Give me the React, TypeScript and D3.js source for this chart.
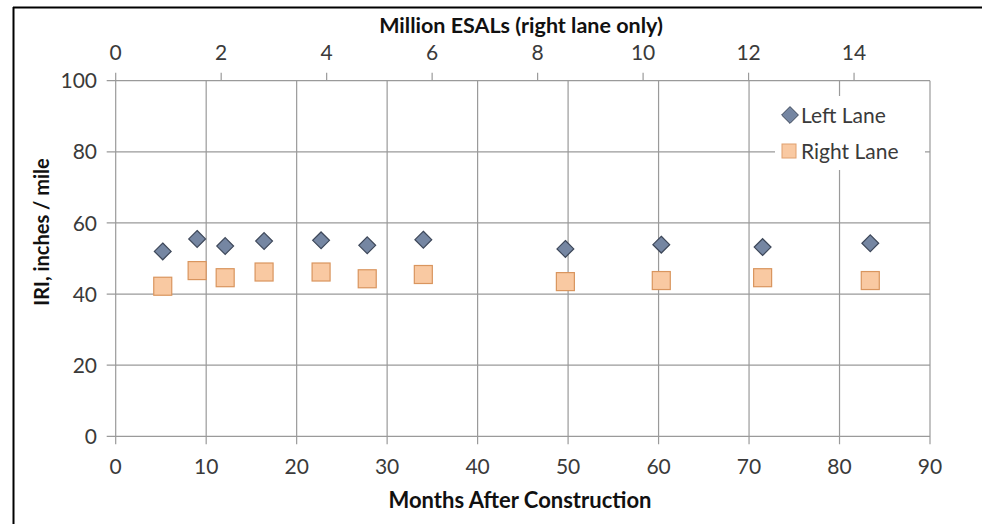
import React from "react";
import * as d3 from "d3";

const months = [5.2, 9.0, 12.1, 16.4, 22.7, 27.8, 34.0, 49.7, 60.3, 71.5, 83.4];
const leftLane = [52.0, 55.5, 53.5, 54.9, 55.1, 53.7, 55.3, 52.7, 53.9, 53.2, 54.3];
const rightLane = [42.2, 46.6, 44.6, 46.2, 46.2, 44.3, 45.5, 43.5, 43.8, 44.6, 43.8];
const monthTicks = [0, 10, 20, 30, 40, 50, 60, 70, 80, 90];
const esalTicks = [0, 2, 4, 6, 8, 10, 12, 14];
const iriTicks = [0, 20, 40, 60, 80, 100];
const esalMax = 15.44;

const W = 982;
const H = 524;
const plot = { left: 115.7, right: 930, top: 80.7, bottom: 436.3 };
const FONT = "Lato, 'Open Sans', sans-serif";
const GRID = "#9a9a9a";
const TXT = "#3a3a3a";

export default function App() {
  const x = d3.scaleLinear().domain([0, 90]).range([plot.left, plot.right]);
  const xTop = d3.scaleLinear().domain([0, esalMax]).range([plot.left, plot.right]);
  const y = d3.scaleLinear().domain([0, 100]).range([plot.bottom, plot.top]);

  const diamond = d3.symbol().type(d3.symbolDiamond2).size(180)();
  const sq = 18;

  return (
    <svg
      width={W}
      height={H}
      style={{ position: "absolute", left: 0, top: 0, background: "#fff" }}
      fontFamily={FONT}
    >
      <rect x={0} y={0} width={W} height={H} fill="#fff" />
      {/* outer frame */}
      <line x1={13} y1={7.5} x2={W} y2={7.5} stroke="#000" strokeWidth={2} />
      <line x1={13.5} y1={7} x2={13.5} y2={H} stroke="#000" strokeWidth={2} />

      {/* horizontal grid */}
      {iriTicks.map((t) => (
        <line key={"hg" + t} x1={plot.left - 9} x2={plot.right} y1={y(t)} y2={y(t)} stroke={GRID} strokeWidth={1.2} />
      ))}
      {/* vertical grid */}
      {monthTicks.map((t) => (
        <line key={"vg" + t} x1={x(t)} x2={x(t)} y1={plot.top} y2={plot.bottom + 8} stroke={GRID} strokeWidth={1.2} />
      ))}
      {/* top ticks */}
      {esalTicks.map((t) => (
        <line key={"tt" + t} x1={xTop(t)} x2={xTop(t)} y1={plot.top - 8} y2={plot.top} stroke={GRID} strokeWidth={1.2} />
      ))}

      {/* legend background */}
      <rect x={775} y={96} width={150} height={74} fill="#fff" />
      <path d={diamond} transform={`translate(790,115)`} fill="#7586a2" stroke="#3d4759" strokeWidth={1} />
      <text x={801} y={115} dy="0.36em" fontSize={21} fill={TXT}>Left Lane</text>
      <rect x={782} y={144} width={14} height={14} fill="#f9c9a2" stroke="#e0a06e" strokeWidth={1} />
      <text x={801} y={151} dy="0.36em" fontSize={21} fill={TXT}>Right Lane</text>

      {/* data */}
      {months.map((m, i) => (
        <rect
          key={"r" + i}
          x={x(m) - sq / 2}
          y={y(rightLane[i]) - sq / 2}
          width={sq}
          height={sq}
          fill="#f9c9a2"
          stroke="#d9955e"
          strokeWidth={1.2}
        />
      ))}
      {months.map((m, i) => (
        <path
          key={"l" + i}
          d={diamond}
          transform={`translate(${x(m)},${y(leftLane[i])})`}
          fill="#7586a2"
          stroke="#3d4759"
          strokeWidth={1.2}
        />
      ))}

      {/* tick labels */}
      {iriTicks.map((t) => (
        <text key={"yl" + t} x={97} y={y(t)} dy="0.36em" textAnchor="end" fontSize={21} fill={TXT}>{t}</text>
      ))}
      {monthTicks.map((t) => (
        <text key={"xl" + t} x={x(t)} y={466} dy="0.36em" textAnchor="middle" fontSize={21} fill={TXT}>{t}</text>
      ))}
      {esalTicks.map((t) => (
        <text key={"el" + t} x={xTop(t)} y={52} dy="0.36em" textAnchor="middle" fontSize={21} fill={TXT}>{t}</text>
      ))}

      {/* titles */}
      <text x={521} y={25} dy="0.36em" textAnchor="middle" fontSize={21.5} fontWeight="bold" fill="#111">Million ESALs (right lane only)</text>
      <text x={520} y={500} dy="0.36em" textAnchor="middle" fontSize={22} fontWeight="bold" fill="#111">Months After Construction</text>
      <text transform={`translate(42,232) rotate(-90)`} dy="0.36em" textAnchor="middle" fontSize={20} fontWeight="bold" fill="#111">IRI, inches / mile</text>
    </svg>
  );
}
